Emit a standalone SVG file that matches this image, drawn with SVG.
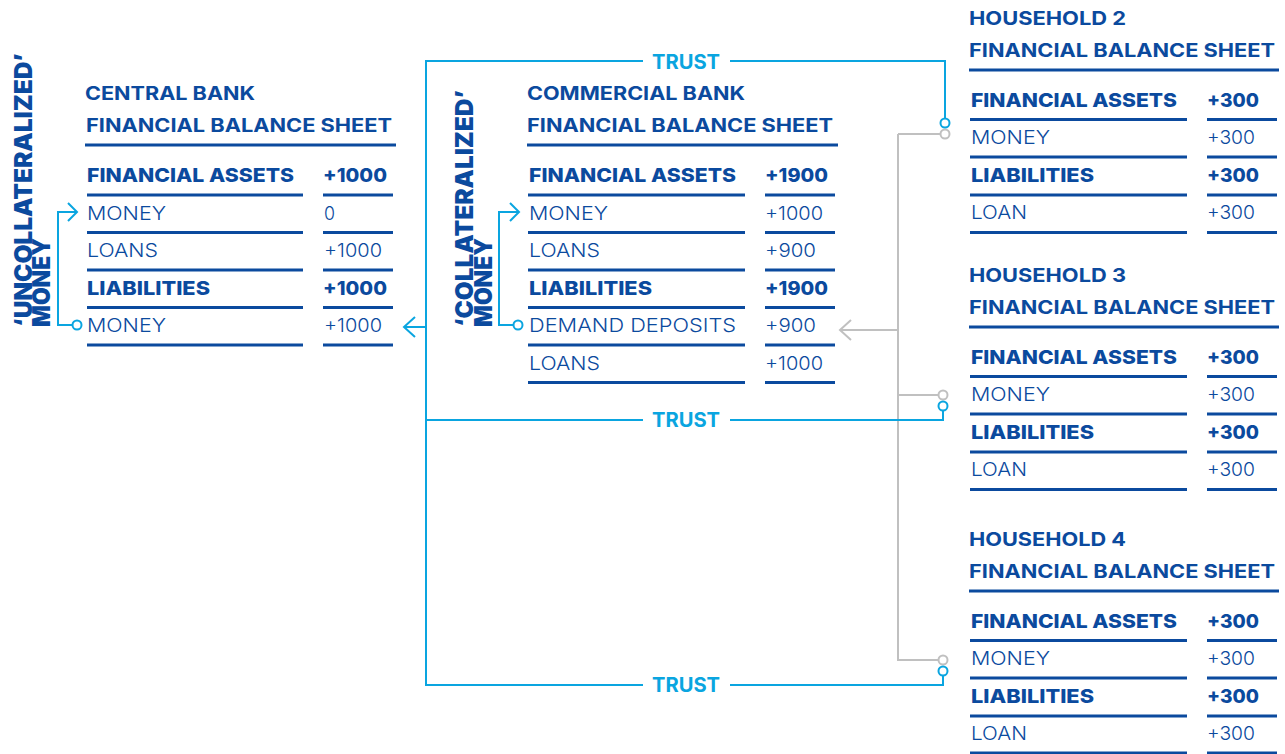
<svg xmlns="http://www.w3.org/2000/svg" width="1285" height="754" viewBox="0 0 1285 754">
<style>
  text { font-family: Inter, "Liberation Sans", "DejaVu Sans", sans-serif; fill: #0b4a9e; }
  .h { font-weight: 700; font-size: 19px; }
  .b { font-weight: 800; font-size: 19px; }
  .l { font-weight: 300; font-size: 19px; }
  .v { font-weight: 900; font-size: 24px; }
  .tr { font-weight: 700; font-size: 20px; fill: #0aa5e0; }
  .rule { stroke: #0b4a9e; stroke-width: 3; fill: none; }
  .blue { stroke: #0aa5e0; stroke-width: 2; fill: none; }
  .grey { stroke: #c0c0c0; stroke-width: 2; fill: none; }
  .cb { stroke: #0aa5e0; stroke-width: 2; fill: #ffffff; }
  .cg { stroke: #c0c0c0; stroke-width: 2; fill: #ffffff; }
</style>

<g id="connectors">
  <!-- grey demand deposit links -->
  <path class="grey" d="M898,134 H940 M898,134 V660 H938 M898,395 H938 M898,330 H840"/>
  <polyline class="grey" points="851,320 840,330 851,340"/>
  <circle class="cg" cx="945" cy="134" r="4.5"/>
  <circle class="cg" cx="943" cy="395" r="4.5"/>
  <circle class="cg" cx="943" cy="660" r="4.5"/>
  <!-- trust lines -->
  <path class="blue" d="M945,118 V61 H730 M643,61 H426 V685 H643 M730,685 H943 V676 M426,420 H643 M730,420 H943 V411 M426,327 H404"/>
  <polyline class="blue" points="415,317 404,327 415,337"/>
  <circle class="cb" cx="945" cy="123" r="4.5"/>
  <circle class="cb" cx="943" cy="406" r="4.5"/>
  <circle class="cb" cx="943" cy="671" r="4.5"/>
  <text class="tr" x="652" y="69" textLength="68" lengthAdjust="spacingAndGlyphs">TRUST</text>
  <text class="tr" x="652" y="427" textLength="68" lengthAdjust="spacingAndGlyphs">TRUST</text>
  <text class="tr" x="652" y="692" textLength="68" lengthAdjust="spacingAndGlyphs">TRUST</text>
  <!-- central bank bracket -->
  <path class="blue" d="M77,212 H58 V325 H72.5"/>
  <polyline class="blue" points="68,203 77,212 68,221"/>
  <circle class="cb" cx="77" cy="325" r="4.5"/>
  <!-- commercial bank bracket -->
  <path class="blue" d="M519,212 H499 V325 H513.5"/>
  <polyline class="blue" points="510,203 519,212 510,221"/>
  <circle class="cb" cx="518" cy="325" r="4.5"/>
</g>

<g id="label-uncollateralized">
  <text class="v" transform="translate(32,327) rotate(-90)" textLength="274" lengthAdjust="spacingAndGlyphs">‘UNCOLLATERALIZED’</text>
  <text class="v" transform="translate(50,327) rotate(-90)" textLength="89" lengthAdjust="spacingAndGlyphs">MONEY</text>
</g>

<g id="label-collateralized">
  <text class="v" transform="translate(473,327) rotate(-90)" textLength="237" lengthAdjust="spacingAndGlyphs">‘COLLATERALIZED’</text>
  <text class="v" transform="translate(492,327) rotate(-90)" textLength="89" lengthAdjust="spacingAndGlyphs">MONEY</text>
</g>

<g id="central-bank">
  <text class="h" x="85" y="100" textLength="170" lengthAdjust="spacingAndGlyphs">CENTRAL BANK</text>
  <text class="h" x="86" y="132" textLength="306" lengthAdjust="spacingAndGlyphs">FINANCIAL BALANCE SHEET</text>
  <path class="rule" d="M85,145 H396"/>
  <text class="b" x="87" y="182" textLength="207" lengthAdjust="spacingAndGlyphs">FINANCIAL ASSETS</text>
  <text class="b" x="323" y="182" textLength="64" lengthAdjust="spacingAndGlyphs">+1000</text>
  <text class="l" x="87" y="220" textLength="79" lengthAdjust="spacingAndGlyphs">MONEY</text>
  <text class="l" x="324" y="220" textLength="11" lengthAdjust="spacingAndGlyphs">0</text>
  <text class="l" x="87" y="257" textLength="71" lengthAdjust="spacingAndGlyphs">LOANS</text>
  <text class="l" x="324" y="257" textLength="58" lengthAdjust="spacingAndGlyphs">+1000</text>
  <text class="b" x="87" y="295" textLength="123" lengthAdjust="spacingAndGlyphs">LIABILITIES</text>
  <text class="b" x="323" y="295" textLength="64" lengthAdjust="spacingAndGlyphs">+1000</text>
  <text class="l" x="87" y="332" textLength="79" lengthAdjust="spacingAndGlyphs">MONEY</text>
  <text class="l" x="324" y="332" textLength="58" lengthAdjust="spacingAndGlyphs">+1000</text>
  <path class="rule" d="M87,195 H303 M323,195 H393 M87,232.5 H303 M323,232.5 H393 M87,270 H303 M323,270 H393 M87,307.5 H303 M323,307.5 H393 M87,345 H303 M323,345 H393"/>
</g>

<g id="commercial-bank">
  <text class="h" x="527" y="100" textLength="218" lengthAdjust="spacingAndGlyphs">COMMERCIAL BANK</text>
  <text class="h" x="527" y="132" textLength="306" lengthAdjust="spacingAndGlyphs">FINANCIAL BALANCE SHEET</text>
  <path class="rule" d="M527,145 H838"/>
  <text class="b" x="529" y="182" textLength="207" lengthAdjust="spacingAndGlyphs">FINANCIAL ASSETS</text>
  <text class="b" x="765" y="182" textLength="63" lengthAdjust="spacingAndGlyphs">+1900</text>
  <text class="l" x="529" y="220" textLength="79" lengthAdjust="spacingAndGlyphs">MONEY</text>
  <text class="l" x="765" y="220" textLength="58" lengthAdjust="spacingAndGlyphs">+1000</text>
  <text class="l" x="529" y="257" textLength="71" lengthAdjust="spacingAndGlyphs">LOANS</text>
  <text class="l" x="765" y="257" textLength="51" lengthAdjust="spacingAndGlyphs">+900</text>
  <text class="b" x="529" y="295" textLength="123" lengthAdjust="spacingAndGlyphs">LIABILITIES</text>
  <text class="b" x="765" y="295" textLength="63" lengthAdjust="spacingAndGlyphs">+1900</text>
  <text class="l" x="529" y="332" textLength="207" lengthAdjust="spacingAndGlyphs">DEMAND DEPOSITS</text>
  <text class="l" x="765" y="332" textLength="51" lengthAdjust="spacingAndGlyphs">+900</text>
  <text class="l" x="529" y="370" textLength="71" lengthAdjust="spacingAndGlyphs">LOANS</text>
  <text class="l" x="765" y="370" textLength="58" lengthAdjust="spacingAndGlyphs">+1000</text>
  <path class="rule" d="M528,195 H745 M765,195 H835 M528,232.5 H745 M765,232.5 H835 M528,270 H745 M765,270 H835 M528,307.5 H745 M765,307.5 H835 M528,345 H745 M765,345 H835 M528,382.5 H745 M765,382.5 H835"/>
</g>

<g id="household-2">
  <text class="h" x="969" y="25" textLength="157" lengthAdjust="spacingAndGlyphs">HOUSEHOLD 2</text>
  <text class="h" x="969" y="57" textLength="306" lengthAdjust="spacingAndGlyphs">FINANCIAL BALANCE SHEET</text>
  <path class="rule" d="M969,70 H1279"/>
  <text class="b" x="971" y="107" textLength="206" lengthAdjust="spacingAndGlyphs">FINANCIAL ASSETS</text>
  <text class="b" x="1207" y="107" textLength="52" lengthAdjust="spacingAndGlyphs">+300</text>
  <text class="l" x="971" y="144" textLength="79" lengthAdjust="spacingAndGlyphs">MONEY</text>
  <text class="l" x="1207" y="144" textLength="48" lengthAdjust="spacingAndGlyphs">+300</text>
  <text class="b" x="971" y="182" textLength="123" lengthAdjust="spacingAndGlyphs">LIABILITIES</text>
  <text class="b" x="1207" y="182" textLength="52" lengthAdjust="spacingAndGlyphs">+300</text>
  <text class="l" x="971" y="219" textLength="56" lengthAdjust="spacingAndGlyphs">LOAN</text>
  <text class="l" x="1207" y="219" textLength="48" lengthAdjust="spacingAndGlyphs">+300</text>
  <path class="rule" d="M970,119.5 H1187 M1207,119.5 H1277 M970,157 H1187 M1207,157 H1277 M970,195 H1187 M1207,195 H1277 M970,232.5 H1187 M1207,232.5 H1277"/>
</g>

<g id="household-3" transform="translate(0,257)">
  <text class="h" x="969" y="25" textLength="157" lengthAdjust="spacingAndGlyphs">HOUSEHOLD 3</text>
  <text class="h" x="969" y="57" textLength="306" lengthAdjust="spacingAndGlyphs">FINANCIAL BALANCE SHEET</text>
  <path class="rule" d="M969,70 H1279"/>
  <text class="b" x="971" y="107" textLength="206" lengthAdjust="spacingAndGlyphs">FINANCIAL ASSETS</text>
  <text class="b" x="1207" y="107" textLength="52" lengthAdjust="spacingAndGlyphs">+300</text>
  <text class="l" x="971" y="144" textLength="79" lengthAdjust="spacingAndGlyphs">MONEY</text>
  <text class="l" x="1207" y="144" textLength="48" lengthAdjust="spacingAndGlyphs">+300</text>
  <text class="b" x="971" y="182" textLength="123" lengthAdjust="spacingAndGlyphs">LIABILITIES</text>
  <text class="b" x="1207" y="182" textLength="52" lengthAdjust="spacingAndGlyphs">+300</text>
  <text class="l" x="971" y="219" textLength="56" lengthAdjust="spacingAndGlyphs">LOAN</text>
  <text class="l" x="1207" y="219" textLength="48" lengthAdjust="spacingAndGlyphs">+300</text>
  <path class="rule" d="M970,119.5 H1187 M1207,119.5 H1277 M970,157 H1187 M1207,157 H1277 M970,195 H1187 M1207,195 H1277 M970,232.5 H1187 M1207,232.5 H1277"/>
</g>

<g id="household-4" transform="translate(0,521)">
  <text class="h" x="969" y="25" textLength="157" lengthAdjust="spacingAndGlyphs">HOUSEHOLD 4</text>
  <text class="h" x="969" y="57" textLength="306" lengthAdjust="spacingAndGlyphs">FINANCIAL BALANCE SHEET</text>
  <path class="rule" d="M969,70 H1279"/>
  <text class="b" x="971" y="107" textLength="206" lengthAdjust="spacingAndGlyphs">FINANCIAL ASSETS</text>
  <text class="b" x="1207" y="107" textLength="52" lengthAdjust="spacingAndGlyphs">+300</text>
  <text class="l" x="971" y="144" textLength="79" lengthAdjust="spacingAndGlyphs">MONEY</text>
  <text class="l" x="1207" y="144" textLength="48" lengthAdjust="spacingAndGlyphs">+300</text>
  <text class="b" x="971" y="182" textLength="123" lengthAdjust="spacingAndGlyphs">LIABILITIES</text>
  <text class="b" x="1207" y="182" textLength="52" lengthAdjust="spacingAndGlyphs">+300</text>
  <text class="l" x="971" y="219" textLength="56" lengthAdjust="spacingAndGlyphs">LOAN</text>
  <text class="l" x="1207" y="219" textLength="48" lengthAdjust="spacingAndGlyphs">+300</text>
  <path class="rule" d="M970,119.5 H1187 M1207,119.5 H1277 M970,157 H1187 M1207,157 H1277 M970,195 H1187 M1207,195 H1277 M970,232 H1187 M1207,232 H1277"/>
</g>
</svg>
